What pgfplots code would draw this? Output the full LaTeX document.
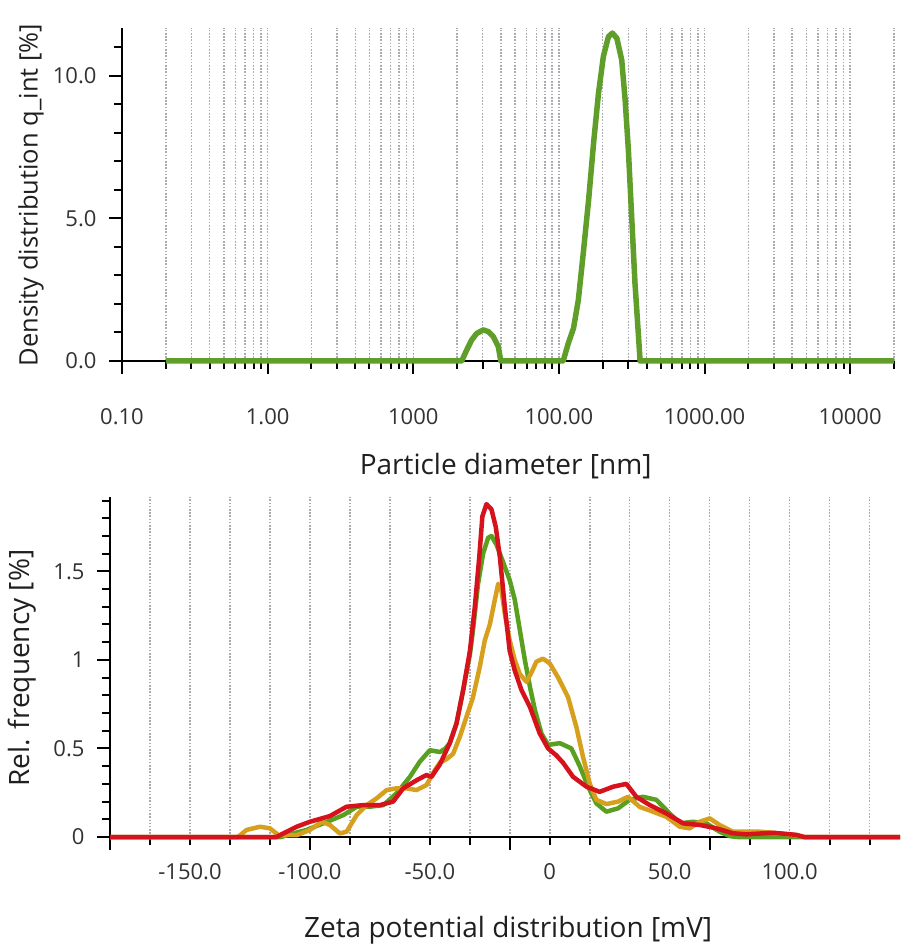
\documentclass[border=0pt]{standalone}
\usepackage{pgfplots}
\pgfplotsset{compat=1.18}
\usepackage{fontspec}
\setmainfont{Open Sans}
\definecolor{tgreen}{RGB}{95,158,40}
\definecolor{zgreen}{RGB}{90,160,32}
\definecolor{zorange}{RGB}{214,160,30}
\definecolor{zred}{RGB}{214,18,28}
\definecolor{gridgray}{RGB}{170,170,176}
\definecolor{ticktext}{RGB}{50,50,50}
\pgfplotsset{
  common/.style={
    scale only axis,
    axis lines=left,
    axis line style={-, line width=2pt, black},
    tick align=outside,
    tick style={line width=2pt, black},
    major tick length=13pt,
    minor tick length=8pt,
    /pgf/number format/assume math mode=true,
    ticklabel style={font=\fontsize{22}{26}\selectfont, text=ticktext},
    label style={font=\fontsize{28}{32}\selectfont, text=black!88},
    minor grid style={gridgray, line width=1.5pt, dash pattern=on 1.5pt off 1.7pt},
    major grid style={gridgray, line width=1.5pt, dash pattern=on 1.5pt off 1.7pt},
    clip=false,
  }
}
\begin{document}
\begin{tikzpicture}
\useasboundingbox (0pt,0pt) rectangle (901pt,946pt);
% ---------------- top: particle size distribution ----------------
\begin{axis}[common,
  at={(122pt,585pt)}, anchor=south west,
  width=772pt, height=333pt,
  xmode=log, xmin=0.1, xmax=20000,
  ymin=0, ymax=11.68,
  xtick={0.1,1,10,100,1000,10000},
  xticklabels={0.10,1.00,1000,100.00,1000.00,10000},
  minor xtick={0.2,0.3,0.4,0.5,0.6,0.7,0.8,0.9,2,3,4,5,6,7,8,9,20,30,40,50,60,70,80,90,200,300,400,500,600,700,800,900,2000,3000,4000,5000,6000,7000,8000,9000,20000},
  ytick={0,5,10},
  yticklabels={0.0,5.0,10.0},
  minor ytick={1,2,3,4,6,7,8,9,11},
  xminorgrids, xmajorgrids,
  xticklabel style={anchor=center, yshift=-43pt},
  yticklabel style={xshift=-9pt},
  xlabel={Particle diameter [nm]},
  ylabel={Density distribution q\_int [\%]},
  xlabel style={at={(axis description cs:0.497,-0.315)}, anchor=center},
  ylabel style={at={(axis description cs:-0.118,0.498)}, anchor=center, font=\fontsize{25.5}{30}\selectfont},
]
\addplot[tgreen, line width=5.5pt, line join=round] coordinates {
(0.2,0) (21.5,0) (23.3,0.39) (25.2,0.74) (27.3,0.97) (30.3,1.09) (32.8,1.03)
(35.5,0.85) (38.4,0.50) (39.9,0) (107,0) (116,0.62) (126,1.15) (136,2.14)
(147,3.78) (160,5.65) (173,7.64) (187,9.39) (202,10.68) (219,11.38) (233,11.5)
(250,11.32) (270,10.56) (285,9.16) (300,7.40) (316,5.06) (333,2.73) (351,0.97)
(361,0) (20000,0)
};
\end{axis}
% ---------------- bottom: zeta potential distribution ----------------
\begin{axis}[common,
  at={(110pt,109pt)}, anchor=south west,
  width=790pt, height=340pt,
  xmin=-183.333, xmax=146,
  ymin=0, ymax=1.92,
  xtick={-183.333,-100,-16.667,66.667},
  xticklabels={},
  extra x ticks={-150,-100,-50,0,50,100},
  extra x tick labels={-150.0,-100.0,-50.0,0,50.0,100.0},
  extra x tick style={grid=none, tick style={draw=none}},
  minor xtick={-183.333,-166.667,-150,-133.333,-116.667,-100,-83.333,-66.667,-50,-33.333,-16.667,0,16.667,33.333,50,66.667,83.333,100,116.667,133.333},
  xminorgrids,
  ytick={0,0.5,1,1.5},
  yticklabels={0,0.5,1,1.5},
  minor ytick={0.1,0.2,0.3,0.4,0.6,0.7,0.8,0.9,1.1,1.2,1.3,1.4,1.6,1.7,1.8,1.9},
  xticklabel style={anchor=center, yshift=-22pt},
  yticklabel style={xshift=-9pt},
  xlabel={Zeta potential distribution [mV]},
  ylabel={Rel. frequency [\%]},
  xlabel style={at={(axis description cs:0.504,-0.2735)}, anchor=center},
  ylabel style={at={(axis description cs:-0.111,0.497)}, anchor=center},
]
\addplot[zgreen, line width=4.5pt, line join=round] coordinates {
(-183.333,0) (-112,0) (-109.7,0.01) (-101.4,0.04) (-94.4,0.077) (-86,0.124)
(-80.5,0.171) (-75,0.171) (-69.4,0.18) (-63.9,0.246) (-58.3,0.34) (-54.2,0.425)
(-50,0.49) (-45.8,0.48) (-43.5,0.50) (-41.7,0.53) (-38.9,0.64) (-36.1,0.83)
(-33.3,1.03) (-32,1.17) (-29.9,1.43) (-27.8,1.60) (-25.7,1.69) (-24.3,1.70)
(-22.2,1.65) (-19.4,1.55) (-16.7,1.45) (-14.6,1.34) (-12.5,1.17) (-10.4,1.0)
(-8.3,0.85) (-6.25,0.72) (-3.5,0.585) (-0.7,0.52) (4.2,0.53) (9,0.50)
(12.5,0.40) (16,0.284) (19.4,0.19) (23.6,0.143) (28.5,0.162) (33.3,0.21)
(38.9,0.227) (44.4,0.21) (50,0.133) (54.2,0.077) (59.7,0.086) (65.3,0.077)
(70.8,0.03) (75,0.005) (78,0) (146,0)
};
\addplot[zorange, line width=4.5pt, line join=round] coordinates {
(-183.333,0) (-130,0) (-126.4,0.04) (-120.8,0.058) (-116.7,0.049) (-113,0.01)
(-105.5,0.01) (-100,0.04) (-95,0.086) (-91.7,0.068) (-87.5,0.02) (-84.7,0.03)
(-80.5,0.124) (-76.4,0.18) (-72.2,0.218) (-68,0.265) (-63.9,0.275) (-59.7,0.275)
(-55.6,0.265) (-51.4,0.293) (-47.9,0.378) (-45.8,0.42) (-43,0.44) (-40.3,0.47)
(-37.5,0.566) (-34.7,0.68) (-32,0.79) (-29.2,0.96) (-27.1,1.11) (-25,1.20)
(-22.9,1.34) (-21.5,1.43) (-20.1,1.39) (-18.75,1.26) (-16.7,1.11) (-14.6,1.0)
(-12.5,0.92) (-9.7,0.876) (-7.6,0.93) (-5.6,0.99) (-2.8,1.007) (0,0.98)
(3.5,0.90) (7.6,0.79) (11.1,0.62) (13.9,0.45) (16.7,0.30) (19.4,0.21)
(23.6,0.186) (28.5,0.20) (32.6,0.227) (37.5,0.17) (43,0.143) (48.6,0.114)
(54.2,0.058) (58.3,0.049) (62.5,0.086) (66.7,0.105) (70.8,0.068) (76.4,0.03)
(79,0.03) (87.5,0.03) (95.8,0.02) (103,0.01) (106,0) (146,0)
};
\addplot[zred, line width=4.5pt, line join=round] coordinates {
(-183.333,0) (-114,0) (-105.5,0.058) (-100,0.086) (-91.7,0.118) (-84.7,0.171)
(-77.8,0.18) (-70.8,0.18) (-65.3,0.2) (-61.1,0.275) (-55.6,0.32) (-51.4,0.35)
(-49.3,0.34) (-45.8,0.41) (-41.7,0.53) (-38.9,0.64) (-36.1,0.83) (-33.3,1.05)
(-31.25,1.30) (-29.4,1.58) (-28.1,1.81) (-26.4,1.88) (-24.3,1.85) (-22.5,1.75)
(-20.8,1.58) (-18.75,1.30) (-16.7,1.05) (-14.6,0.94) (-11.8,0.83) (-8.3,0.735)
(-4.2,0.585) (-0.7,0.50) (2.8,0.46) (5.5,0.42) (9.7,0.34) (15.3,0.284)
(20.8,0.255) (26.4,0.284) (31.9,0.30) (36.1,0.227) (41.7,0.18) (48.6,0.133)
(55.6,0.077) (62.5,0.068) (69.4,0.049) (76.4,0.021) (82,0.015) (93,0.024)
(102.8,0.012) (106,0) (146,0)
};
\end{axis}
\end{tikzpicture}
\end{document}
